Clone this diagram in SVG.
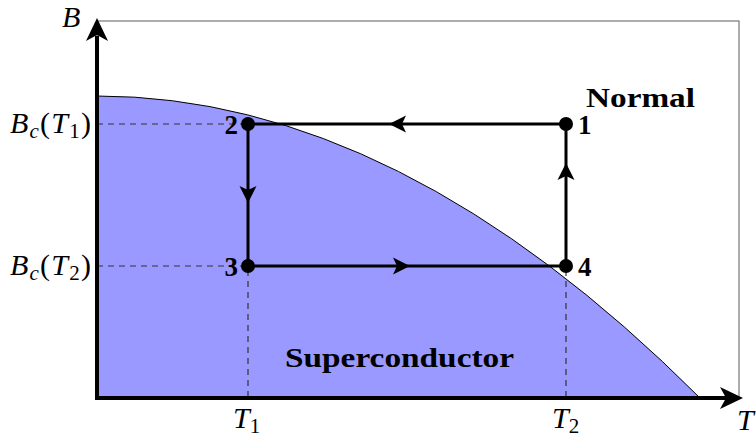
<svg xmlns="http://www.w3.org/2000/svg" width="756" height="439" viewBox="0 0 756 439">
<style>
.lbl{font-family:"Liberation Serif","DejaVu Serif",serif;font-size:30px;fill:#000}
.it{font-style:italic}
.sub{font-size:21px}
.bold{font-family:"Liberation Serif","DejaVu Serif",serif;font-weight:bold;font-size:27px;fill:#000}
.dash{stroke:#333;stroke-width:1.2;stroke-dasharray:6,5;fill:none}
.path{stroke:#000;stroke-width:3;fill:none}
</style>
<defs>
<path id="ah" d="M0,0 L-17,-8.5 L-13,0 L-17,8.5 Z" fill="#000"/>
</defs>
<rect x="97" y="21" width="642" height="377" fill="none" stroke="#777" stroke-width="1.2"/>
<g id="region-superconductor">
<path d="M97,96 Q398.5,96 700,398 L97,398 Z" fill="#9999ff" stroke="none"/>
<path d="M97,96 Q398.5,96 700,398" fill="none" stroke="#000" stroke-width="1"/>
</g>
<g id="guides">
<line class="dash" x1="97" y1="124" x2="244" y2="124"/>
<line class="dash" x1="97" y1="266" x2="244" y2="266"/>
<line class="dash" x1="248" y1="270" x2="248" y2="398"/>
<line class="dash" x1="566" y1="270" x2="566" y2="398"/>
</g>
<g id="axes">
<line x1="97" y1="400" x2="97" y2="36" stroke="#000" stroke-width="4"/>
<line x1="95" y1="398" x2="726" y2="398" stroke="#000" stroke-width="4"/>
<path d="M97,18 L108,41 L97,35 L86,41 Z" fill="#000"/>
<path d="M743,398 L720,387 L726,398 L720,409 Z" fill="#000"/>
</g>
<g id="connectors">
<line class="path" x1="566" y1="124" x2="248" y2="124"/>
<line class="path" x1="248" y1="124" x2="248" y2="266"/>
<line class="path" x1="248" y1="266" x2="566" y2="266"/>
<line class="path" x1="566" y1="266" x2="566" y2="124"/>
<use href="#ah" transform="translate(389,124) rotate(180)"/>
<use href="#ah" transform="translate(248,203) rotate(90)"/>
<use href="#ah" transform="translate(410,266)"/>
<use href="#ah" transform="translate(566,163) rotate(-90)"/>
</g>
<g id="node-1"><circle cx="566" cy="124" r="7"/><text class="bold" x="578" y="134">1</text></g>
<g id="node-2"><circle cx="248" cy="124" r="7"/><text class="bold" x="238" y="134" text-anchor="end">2</text></g>
<g id="node-3"><circle cx="248" cy="266" r="7"/><text class="bold" x="238" y="276" text-anchor="end">3</text></g>
<g id="node-4"><circle cx="566" cy="266" r="7"/><text class="bold" x="578" y="276">4</text></g>
<g id="labels">
<text class="bold" x="586" y="107" textLength="109" lengthAdjust="spacingAndGlyphs">Normal</text>
<text class="bold" x="285" y="367" textLength="229" lengthAdjust="spacingAndGlyphs">Superconductor</text>
<text class="lbl it" x="62" y="27">B</text>
<text class="lbl it" x="737" y="430">T</text>
<text class="lbl" x="233" y="428"><tspan class="it">T</tspan><tspan class="sub" dy="5">1</tspan></text>
<text class="lbl" x="552" y="428"><tspan class="it">T</tspan><tspan class="sub" dy="5">2</tspan></text>
<text class="lbl" x="10" y="133" textLength="81"><tspan class="it">B</tspan><tspan class="sub it" dy="5">c</tspan><tspan dy="-5">(</tspan><tspan class="it">T</tspan><tspan class="sub" dy="5">1</tspan><tspan dy="-5">)</tspan></text>
<text class="lbl" x="10" y="275" textLength="81"><tspan class="it">B</tspan><tspan class="sub it" dy="5">c</tspan><tspan dy="-5">(</tspan><tspan class="it">T</tspan><tspan class="sub" dy="5">2</tspan><tspan dy="-5">)</tspan></text>
</g>
</svg>
